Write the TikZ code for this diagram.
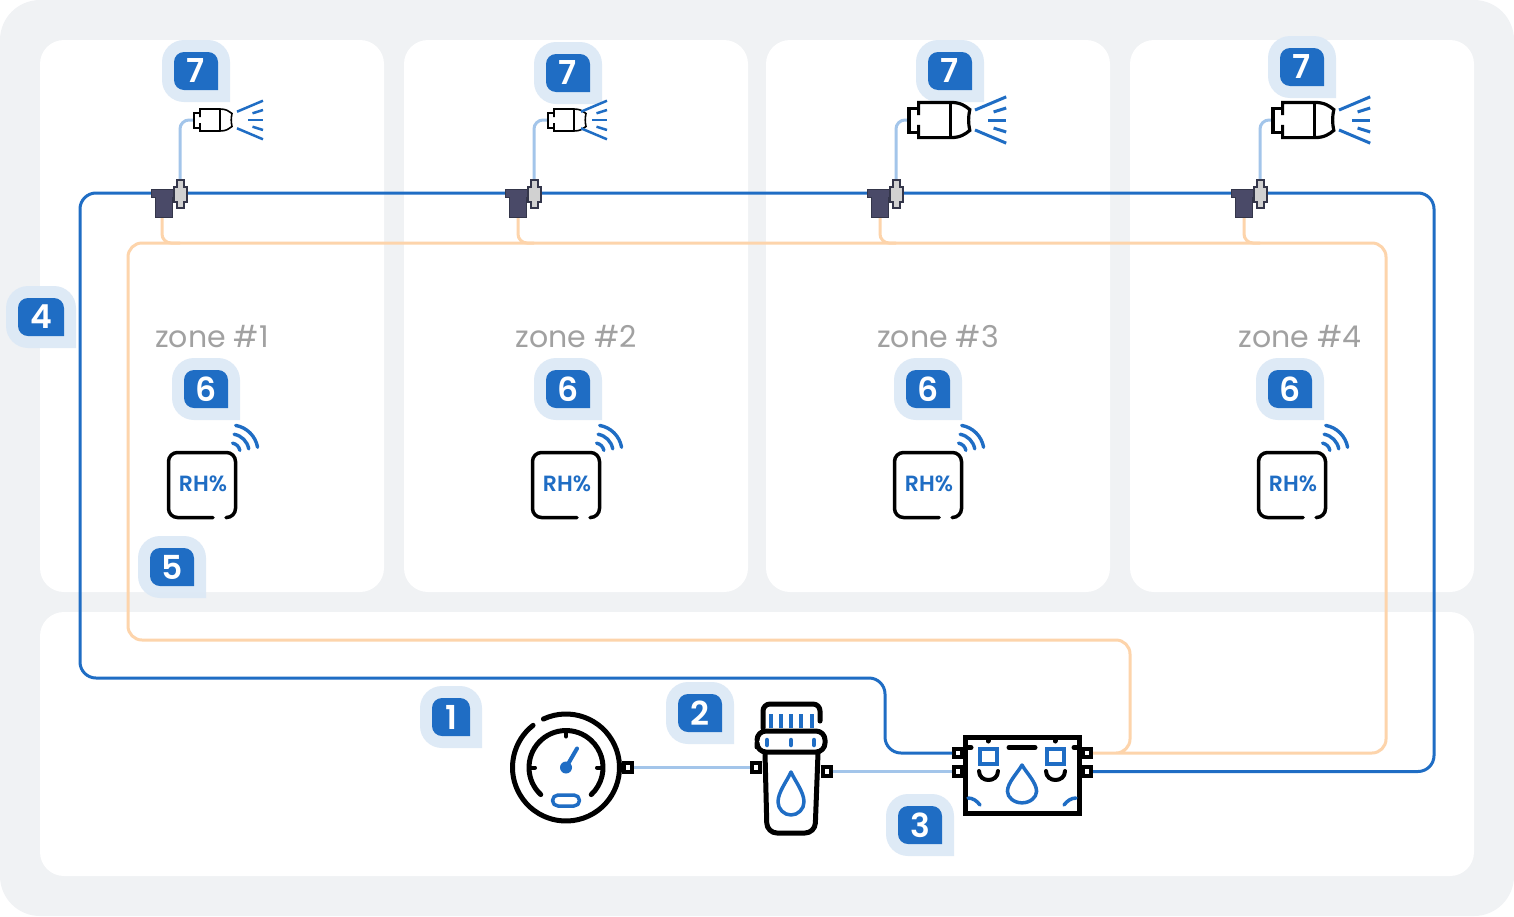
\documentclass[tikz,border=0pt]{standalone}
\usepackage{fontspec}
\setmainfont{Poppins}
\newfontfamily\badgefont{Poppins SemiBold}
\usetikzlibrary{positioning}
\definecolor{pipeblue}{HTML}{1F6DC4}
\definecolor{feedblue}{HTML}{A3C5EA}
\definecolor{drainorange}{HTML}{FDD4AB}
\definecolor{panelgrey}{HTML}{F0F2F4}
\definecolor{teedark}{HTML}{4A4A68}
\definecolor{teeline}{HTML}{34364A}
\tikzset{
    panel/.style={fill=white, rounded corners=24pt},
    mainpipe/.style={draw=pipeblue, line width=3pt, rounded corners=16pt},
    feedpipe/.style={draw=feedblue, line width=3pt, rounded corners=9pt},
    drainpipe/.style={draw=drainorange, line width=3pt, rounded corners=14pt},
    stub/.style={draw=black, fill=white, line width=4pt, inner sep=0pt, minimum width=8pt, minimum height=8.5pt},
    iconline/.style={draw=black, line width=5pt, line cap=round, line join=round},
    iconblue/.style={draw=pipeblue, line width=3.5pt, line cap=round, line join=round},
    zonelabel/.style={text=black!37, font=\fontsize{30}{34}\selectfont},
    pics/badge/.style n args={2}{code={
        \fill[pipeblue!15, fill opacity=.95] (#1+12,31) [rounded corners=22pt] -- (-#1-12,31) -- (-#1-12,-31) -- (#1+12,-31) [sharp corners] -- cycle;
        \fill[pipeblue] (#1,19) [rounded corners=10pt] -- (-#1,19) -- (-#1,-19) -- (#1,-19) [sharp corners] -- cycle;
        \node[text=white, font=\fontsize{33}{36}\selectfont\badgefont] (-num) at (0,0) {#2};
    }},
    pics/nozzle/.style={code={
        \path[fill=white] (0,-7) -- (6,-7) -- (6,-11) -- (26,-11) .. controls (32,-11) and (35,-9) .. (38,-6.5) -- (38,6.5) .. controls (35,9) and (32,11) .. (26,11) -- (6,11) -- (6,8) -- (0,8) -- cycle;
        \draw[line join=miter] (6,-3) -- (6,-11) -- (26,-11) .. controls (32,-11) and (35,-9) .. (38,-6.5) .. controls (37,-2) and (37,2) .. (38,6.5) .. controls (35,9) and (32,11) .. (26,11) -- (6,11) -- (6,3);
        \draw (6,-7) -- (0,-7) -- (0,8) -- (6,8);
        \draw (26,-11) -- (26,10);
    }},
    pics/spray/.style={code={
        \draw[pipeblue] (0,-8.3) -- (26,-19.3);
        \draw[pipeblue] (15.5,-6.7) -- (26,-10);
        \draw[pipeblue] (11,0) -- (26,0);
        \draw[pipeblue] (15.5,6.7) -- (26,10);
        \draw[pipeblue] (0,8.3) -- (26,19.3);
    }},
    pics/tee/.style={code={
        \draw[fill=teedark, draw=teeline, line width=1pt] (-29,-5) -- (-5,-5) -- (-5,3) -- (-8,3) -- (-8,23) -- (-25,23) -- (-25,3) -- (-29,3) -- cycle;
        \draw[fill=black!18, draw=teeline, line width=1.2pt] (-3,-14) -- (4,-14) -- (4,-7) -- (7,-7) -- (7,8) -- (4,8) -- (4,14) -- (-3,14) -- (-3,8) -- (-6,8) -- (-6,-7) -- (-3,-7) -- cycle;
    }},
    pics/sensor/.style={code={
        \draw[line width=3.5pt, line cap=round, rounded corners=9pt] (11,32.5) -- (-33.5,32.5) -- (-33.5,-32.5) -- (33.5,-32.5) -- (33.5,32.5) -- (24,32.5);
        \node[text=pipeblue, font=\fontsize{22}{24}\selectfont\badgefont] (-rh) at (1,-1) {RH\%};
        \draw[pipeblue, line width=3.4pt, line cap=round] (29,-33) ++(-80:9) arc[start angle=-80, end angle=-10, radius=9];
        \draw[pipeblue, line width=3.4pt, line cap=round] (29,-33) ++(-80:18) arc[start angle=-80, end angle=-10, radius=18];
        \draw[pipeblue, line width=3.4pt, line cap=round] (29,-33) ++(-80:27) arc[start angle=-80, end angle=-10, radius=27];
    }},
    pics/drop/.style={code={
        \draw[iconblue] (0,0) .. controls (-4,9) and (-13,20) .. (-13,30) .. controls (-13,37) and (-7,43) .. (0,43) .. controls (7,43) and (13,37) .. (13,30) .. controls (13,20) and (4,9) .. (0,0) -- cycle;
    }},
}
\begin{document}
\begin{tikzpicture}[x=1pt, y=-1pt]
    \useasboundingbox (0,0) rectangle (1514,916);
    \fill[panelgrey] (0,0) [rounded corners=40pt] rectangle (1514,916);
    \fill[panel] (40,40) rectangle (384,592);
    \fill[panel] (404,40) rectangle (748,592);
    \fill[panel] (766,40) rectangle (1110,592);
    \fill[panel] (1130,40) rectangle (1474,592);
    \fill[panel] (40,612) rectangle (1474,876);

    \node[zonelabel] (zoneA) at (212,337) {zone \#1};
    \node[zonelabel] (zoneB) at (576,337) {zone \#2};
    \node[zonelabel] (zoneC) at (938,337) {zone \#3};
    \node[zonelabel] (zoneD) at (1300,337) {zone \#4};

    \node[stub] (meterOut) at (628,767.5) {};
    \node[stub] (filterIn) at (756,767.5) {};
    \node[stub] (filterOut) at (826.5,771.5) {};
    \node[stub] (unitInA) at (958,753) {};
    \node[stub] (unitInB) at (958,771.5) {};
    \node[stub] (unitOutA) at (1087,753) {};
    \node[stub] (unitOutB) at (1087,771.5) {};

    \coordinate (nozzleA) at (194,120);
    \coordinate (nozzleB) at (548,120);
    \coordinate (nozzleC) at (909,120);
    \coordinate (nozzleD) at (1273,120);
    \coordinate (tapA) at (180,185);
    \coordinate (tapB) at (534,185);
    \coordinate (tapC) at (896,185);
    \coordinate (tapD) at (1260,185);
    \coordinate (drainA) at (162,215);
    \coordinate (drainB) at (518,215);
    \coordinate (drainC) at (880,215);
    \coordinate (drainD) at (1244,215);

    \draw[feedpipe] (tapA) |- (nozzleA);
    \draw[feedpipe] (tapB) |- (nozzleB);
    \draw[feedpipe] (tapC) |- (nozzleC);
    \draw[feedpipe] (tapD) |- (nozzleD);
    \draw[drainpipe, rounded corners=9pt] (drainA) |- (180,243);
    \draw[drainpipe, rounded corners=9pt] (drainB) |- (534,243);
    \draw[drainpipe, rounded corners=9pt] (drainC) |- (896,243);
    \draw[drainpipe, rounded corners=9pt] (drainD) |- (1260,243);
    \draw[drainpipe] (unitOutA.east) -- (1386,753) -- (1386,243) -- (128,243) -- (128,640) -- (1130,640) -- (1130,753) -- (1105,753);
    \draw[mainpipe] (unitOutB.east) -- (1434,771.5) -- (1434,193) -- (80,193) -- (80,678) -- (885,678) -- (885,753) -- (unitInA.west);
    \draw[feedpipe] (meterOut.east) -- (filterIn.west);
    \draw[feedpipe] (filterOut.east) -- (unitInB.west);

    \pic (badgeSevenA) at (196,71) {badge={22}{7}};
    \pic (badgeSevenB) at (568,73) {badge={22}{7}};
    \pic (badgeSevenC) at (950,71) {badge={22}{7}};
    \pic (badgeSevenD) at (1302,67) {badge={22}{7}};
    \pic (badgeFour) at (41,317) {badge={23}{4}};
    \pic (badgeSixA) at (206,389) {badge={22}{6}};
    \pic (badgeSixB) at (568,389) {badge={22}{6}};
    \pic (badgeSixC) at (928,389) {badge={22}{6}};
    \pic (badgeSixD) at (1290,389) {badge={22}{6}};
    \pic (badgeFive) at (172,567) {badge={22}{5}};
    \pic (badgeOne) at (451,717) {badge={19}{1}};
    \pic (badgeTwo) at (700,713) {badge={22}{2}};
    \pic (badgeThree) at (920,825) {badge={22}{3}};

    \pic[line width=1.6pt] at (nozzleA) {nozzle};
    \pic[line width=1.6pt] at (nozzleB) {nozzle};
    \pic[line width=3.2pt, scale=1.6] at (nozzleC) {nozzle};
    \pic[line width=3.2pt, scale=1.6] at (nozzleD) {nozzle};
    \pic[line width=2.5pt] at (237,120) {spray};
    \pic[line width=2.5pt] at (581,120) {spray};
    \pic[line width=3pt, scale=1.2] at (975,120) {spray};
    \pic[line width=3pt, scale=1.2] at (1339,120) {spray};

    \pic at (180,194) {tee};
    \pic at (534,194) {tee};
    \pic at (896,194) {tee};
    \pic at (1260,194) {tee};

    \pic at (202,485) {sensor};
    \pic at (566,485) {sensor};
    \pic at (928,485) {sensor};
    \pic at (1292,485) {sensor};

    \begin{scope}[shift={(566,767.5)}]
        \draw[iconline] (-115:53.5) arc[start angle=-115, end angle=232, radius=53.5];
        \draw[iconline] (-227:37) arc[start angle=-227, end angle=47, radius=37];
        \draw[iconline, line width=4pt] (0,-36) -- (0,-31);
        \draw[iconline, line width=4pt] (-36,0) -- (-31,0);
        \draw[iconline, line width=4pt] (36,0) -- (31,0);
        \draw[iconblue, line width=4pt] (0,0) -- (11,-19);
        \fill[pipeblue] (0,0) circle[radius=6];
        \draw[iconblue] (-8,27.5) -- (8,27.5) arc[start angle=-90, end angle=90, radius=5.5] -- (-8,38.5) arc[start angle=90, end angle=270, radius=5.5] -- cycle;
    \end{scope}

    \draw[iconline, rounded corners=7pt] (820,721) -- (820,704) -- (763,704) -- (763,728);
    \draw[iconblue, line width=4.5pt, line cap=butt] (771,714) -- (771,728);
    \draw[iconblue, line width=4.5pt, line cap=butt] (781,714) -- (781,728);
    \draw[iconblue, line width=4.5pt, line cap=butt] (791,714) -- (791,728);
    \draw[iconblue, line width=4.5pt, line cap=butt] (801,714) -- (801,728);
    \draw[iconblue, line width=4.5pt, line cap=butt] (812,714) -- (812,728);
    \draw[iconline, rounded corners=9pt] (757,740) -- (757,731) -- (825,731) -- (825,752) -- (757,752) -- (757,747);
    \draw[iconblue, line width=4.5pt] (767,740) -- (767,745);
    \draw[iconblue, line width=4.5pt] (791,740) -- (791,745);
    \draw[iconblue, line width=4.5pt] (814,740) -- (814,745);
    \draw[iconline, rounded corners=10pt] (765,753) -- (767,833) -- (815,833) -- (818,753);
    \pic at (791,772) {drop};

    \draw[iconline, line cap=butt, line join=miter] (965.5,737.5) rectangle (1079.5,813);
    \draw[iconline] (1009,747.5) -- (1035,747.5);
    \draw[iconline] (967,747.5) -- (971,747.5);
    \draw[iconline] (1074,747.5) -- (1078,747.5);
    \draw[iconline] (988,738) -- (988,741);
    \draw[iconline] (1055,738) -- (1055,741);
    \draw[iconblue, line width=4pt, line cap=butt, line join=miter] (980,748.5) rectangle (997,764);
    \draw[iconblue, line width=4pt, line cap=butt, line join=miter] (1047,748.5) rectangle (1064,764);
    \draw[iconline, line width=4pt] (979,771) .. controls (979,783) and (998,783) .. (998,771);
    \draw[iconline, line width=4pt] (1046,771) .. controls (1046,783) and (1065,783) .. (1065,771);
    \pic[xscale=1.12, yscale=.88] at (1022,765) {drop};
    \draw[iconblue] (968,798) .. controls (973,798) and (977,801) .. (980,805);
    \draw[iconblue] (1076,798) .. controls (1071,798) and (1067,801) .. (1064,805);
\end{tikzpicture}
\end{document}
